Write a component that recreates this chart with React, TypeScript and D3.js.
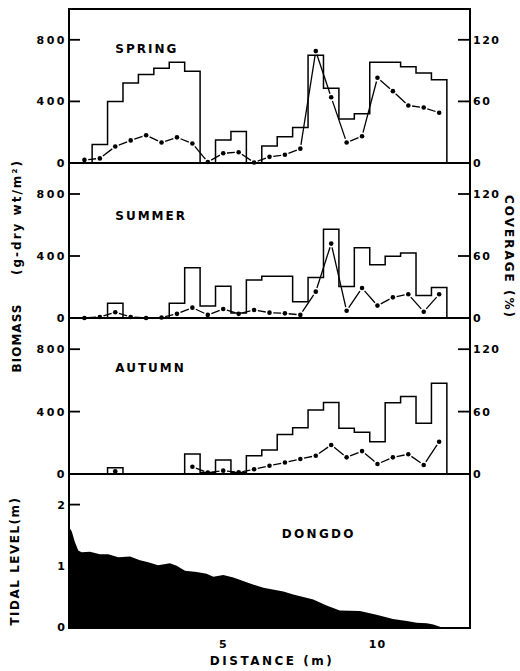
import React from 'react';
import * as d3 from 'd3';

// sampling stations along the transect (m)
const distance = [0.5, 1.0, 1.5, 2.0, 2.5, 3.0, 3.5, 4.0, 4.5, 5.0, 5.5, 6.0, 6.5, 7.0, 7.5, 8.0, 8.5, 9.0, 9.5, 10.0, 10.5, 11.0, 11.5, 12.0];

// biomass (g-dry wt/m2), step histogram
const springBiomass = [0, 120, 400, 520, 575, 615, 655, 595, 0, 150, 205, 0, 110, 170, 230, 700, 485, 285, 320, 655, 655, 625, 585, 540];
const summerBiomass = [0, 0, 95, 0, 0, 0, 95, 325, 77, 205, 32, 245, 270, 270, 105, 262, 572, 204, 454, 344, 398, 419, 145, 196];
const autumnBiomass = [0, 0, 40, 0, 0, 0, 0, 128, 10, 90, 10, 117, 154, 254, 297, 410, 459, 293, 267, 207, 457, 496, 325, 581];

// coverage (%), dotted line
const springCoverage = [3, 4.5, 16, 22, 27, 20, 25, 19, 1, 9.5, 10.5, 0.5, 6, 8, 14, 109, 64, 20, 26, 83, 70, 56, 54, 49];
const summerCoverage = [0, 1, 5.5, 1, 0, 0.5, 4, 10, 3, 8.7, 4, 7.7, 5.2, 4.5, 3, 25.5, 72, 7, 29, 12, 20, 23, 6, 23];
const autumnCoverage = [null, null, 2.5, null, null, null, null, 7, 1.3, 3.2, 1.6, 4.5, 8, 11, 14.4, 17.6, 27.9, 16, 22, 9.6, 16, 19, 8.7, 31];

// tidal profile
const tidalDistance = [0, 0.09, 0.19, 0.3, 0.41, 0.68, 1.0, 1.27, 1.6, 1.98, 2.3, 2.57, 2.89, 3.27, 3.49, 3.76, 4.14, 4.46, 4.68, 5.0, 5.33, 5.87, 6.3, 6.95, 7.27, 7.92, 8.35, 8.78, 9.43, 9.97, 10.5, 10.95, 11.27, 11.6, 11.81, 12.05, 13];
const tidalLevel = [1.64, 1.56, 1.39, 1.25, 1.22, 1.23, 1.19, 1.19, 1.14, 1.15, 1.09, 1.06, 1.01, 1.04, 1.0, 0.92, 0.9, 0.87, 0.82, 0.85, 0.81, 0.71, 0.64, 0.58, 0.53, 0.45, 0.35, 0.27, 0.26, 0.2, 0.13, 0.1, 0.07, 0.06, 0.04, 0, 0];

const biomassTicks = [0, 400, 800];
const coverageTicks = [0, 60, 120];
const tidalTicks = [0, 1, 2];
const distanceTicks = [5, 10];

const seasons = [
  { name: 'SPRING', biomass: springBiomass, coverage: springCoverage },
  { name: 'SUMMER', biomass: summerBiomass, coverage: summerCoverage },
  { name: 'AUTUMN', biomass: autumnBiomass, coverage: autumnCoverage },
];

const W = 520;
const H = 671;
const left = 69;
const right = 470;
const top = 9;
const panelBottoms = [163, 318, 474];
const labelOffsets = [44, 57, 54]; // season name baseline below panel top
const tidalBottom = 627;
const frameBottom = 628;
const font = 'DejaVu Sans, sans-serif';

const x = d3.scaleLinear().domain([0, 13]).range([left, right]);

function Season({ s, y0, y1, labelOffset }) {
  const yB = d3.scaleLinear().domain([0, 1000]).range([y1, y0]);
  const yC = d3.scaleLinear().domain([0, 150]).range([y1, y0]);

  // step outline
  const pts: [number, number][] = [[distance[0] - 0.25, 0]];
  distance.forEach((d, i) => {
    pts.push([d - 0.25, s.biomass[i]]);
    pts.push([d + 0.25, s.biomass[i]]);
  });
  pts.push([distance[distance.length - 1] + 0.25, 0]);
  const stepPath = d3.line<[number, number]>()
    .x(p => x(p[0]))
    .y(p => yB(p[1]))(pts);

  const dots = distance
    .map((d, i) => ({ d, v: s.coverage[i] }))
    .filter(p => p.v !== null)
    .map(p => ({ ...p, px: x(p.d), py: yC(p.v) }));

  // segments between adjacent stations, trimmed so they break near dots
  const segs = [];
  for (let i = 1; i < dots.length; i++) {
    const a = dots[i - 1];
    const b = dots[i];
    if (Math.abs(b.d - a.d - 0.5) > 0.01) continue;
    const dx = b.px - a.px;
    const dy = b.py - a.py;
    const len = Math.hypot(dx, dy);
    const t = Math.min(3.8 / len, 0.35);
    segs.push({ x1: a.px + dx * t, y1: a.py + dy * t, x2: b.px - dx * t, y2: b.py - dy * t, key: i });
  }

  return (
    <g>
      {biomassTicks.map(t => (
        <g key={'b' + t}>
          <line x1={left} x2={left + 11} y1={yB(t)} y2={yB(t)} stroke="#000" strokeWidth={1.8} />
          <text x={left - 2} y={yB(t)} dy="0.36em" textAnchor="end" fontSize={11} fontWeight="bold" letterSpacing={2.5}>{t}</text>
        </g>
      ))}
      {coverageTicks.map(t => (
        <g key={'c' + t}>
          <line x1={right - 12} x2={right} y1={yC(t)} y2={yC(t)} stroke="#000" strokeWidth={1.8} />
          <text x={right + 3} y={yC(t)} dy="0.36em" textAnchor="start" fontSize={11} fontWeight="bold" letterSpacing={1.5}>{t}</text>
        </g>
      ))}
      <text x={x(1.5)} y={y0 + labelOffset} fontSize={12} fontWeight="bold" letterSpacing={2}>{s.name}</text>
      <path d={stepPath} fill="none" stroke="#000" strokeWidth={1.5} strokeLinejoin="miter" />
      {segs.map(g => (
        <line key={g.key} x1={g.x1} y1={g.y1} x2={g.x2} y2={g.y2} stroke="#000" strokeWidth={1.3} />
      ))}
      {dots.map(p => (
        <circle key={p.d} cx={p.px} cy={p.py} r={2.3} fill="#000" />
      ))}
    </g>
  );
}

export default function App() {
  const yT = d3.scaleLinear().domain([0, 2.5]).range([tidalBottom, panelBottoms[2]]);
  const area = d3.area<number>()
    .x((d, i) => x(tidalDistance[i]))
    .y0(yT(0))
    .y1(d => yT(d))(tidalLevel);

  return (
    <svg width={W} height={H} style={{ position: 'absolute', left: 0, top: 0, background: '#fff' }} fontFamily={font}>
      {seasons.map((s, i) => (
        <Season key={s.name} s={s} y0={i === 0 ? top : panelBottoms[i - 1]} y1={panelBottoms[i]} labelOffset={labelOffsets[i]} />
      ))}

      <path d={area} fill="#000" />
      {tidalTicks.map(t => (
        <g key={'t' + t}>
          <line x1={left} x2={left + 11} y1={yT(t)} y2={yT(t)} stroke="#000" strokeWidth={1.8} />
          <text x={left - 4} y={yT(t)} dy="0.36em" textAnchor="end" fontSize={11} fontWeight="bold">{t}</text>
        </g>
      ))}
      <text x={x(6.9)} y={538} fontSize={12} fontWeight="bold" letterSpacing={2.3}>DONGDO</text>

      {distanceTicks.map(t => (
        <text key={'d' + t} x={x(t)} y={648} textAnchor="middle" fontSize={11} fontWeight="bold" letterSpacing={1}>{t}</text>
      ))}
      <text x={272} y={665} textAnchor="middle" fontSize={12} fontWeight="bold" letterSpacing={2.5}>DISTANCE  (m)</text>

      {/* frame and panel dividers */}
      <rect x={left} y={top} width={right - left} height={frameBottom - top} fill="none" stroke="#000" strokeWidth={2} />
      {panelBottoms.map(b => (
        <line key={'p' + b} x1={left} x2={right} y1={b} y2={b} stroke="#000" strokeWidth={2} />
      ))}

      {/* axis titles */}
      <text transform="translate(21,338) rotate(-90)" textAnchor="middle" fontSize={12} fontWeight="bold" letterSpacing={1}>BIOMASS</text>
      <text transform="translate(21,217) rotate(-90)" textAnchor="middle" fontSize={12} fontWeight="bold" letterSpacing={2}>(g-dry wt/m²)</text>
      <text transform="translate(505,257) rotate(90)" textAnchor="middle" fontSize={12} fontWeight="bold" letterSpacing={2}>COVERAGE (%)</text>
      <text transform="translate(19,561) rotate(-90)" textAnchor="middle" fontSize={12} fontWeight="bold" letterSpacing={1.5}>TIDAL LEVEL(m)</text>
    </svg>
  );
}
